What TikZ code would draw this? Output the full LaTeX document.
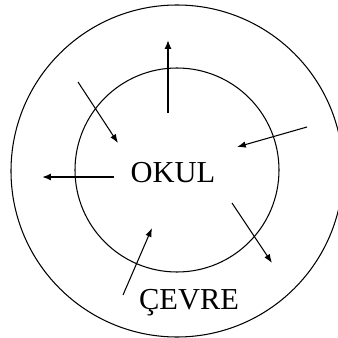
\documentclass[tikz,border=0pt]{standalone}
\usepackage{fontspec}
\setmainfont{Liberation Serif}
\usetikzlibrary{arrows.meta}

\begin{document}
\begin{tikzpicture}[x=0.03cm, y=-0.03cm,
  ring/.style={line width=0.9pt},
  flow/.style={line width=0.9pt, -{Latex[length=7.5pt,width=5.5pt]}},
  bigflow/.style={line width=1.7pt, -{Latex[length=7.5pt,width=6pt]}},
  lbl/.style={font=\fontsize{26}{28}\selectfont, inner sep=0pt}]
\useasboundingbox (0,0) rectangle (337,338);
% circles
\draw[ring] (177,171) circle[radius=166];
\draw[ring] (177,170) circle[radius=102];
% labels
\node[lbl] (okul) at (173,173) {OKUL};
\node[lbl] (cevre) at (189,303) {ÇEVRE};
% arrow ends
\coordinate (upS) at (168,113);
\coordinate (upE) at (168,40);
\coordinate (leftS) at (114,177);
\coordinate (leftE) at (42,177);
\coordinate (nwS) at (78,82);
\coordinate (nwE) at (118,143);
\coordinate (eS) at (307,127);
\coordinate (eE) at (237,147);
\coordinate (seS) at (232,203);
\coordinate (seE) at (272,263);
\coordinate (sS) at (123,295);
\coordinate (sE) at (152,228);
% outward
\draw[bigflow] (upS) -- (upE);
\draw[bigflow] (leftS) -- (leftE);
\draw[flow] (seS) -- (seE);
% inward
\draw[flow] (nwS) -- (nwE);
\draw[flow] (eS) -- (eE);
\draw[flow] (sS) -- (sE);
\end{tikzpicture}
\end{document}
